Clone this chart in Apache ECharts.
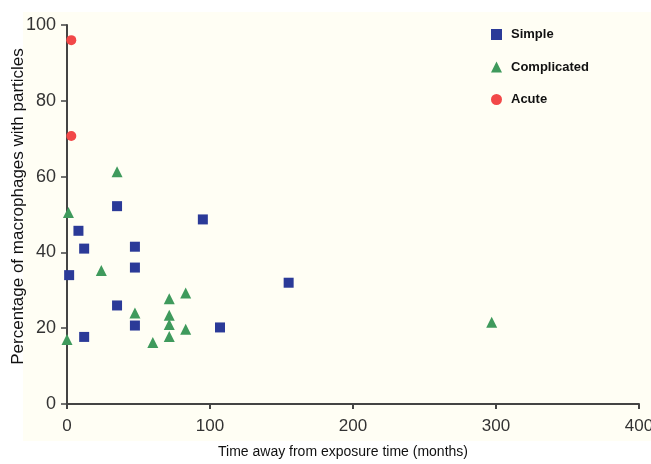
<!DOCTYPE html>
<html>
<head>
<meta charset="utf-8">
<script src="https://cdn.jsdelivr.net/npm/echarts@6/dist/echarts.min.js"></script>
<style>html,body{margin:0;padding:0;background:#fff;}#c{width:651px;height:464px;}</style>
</head>
<body>
<div id="c"></div>
<script>
const xTicks = [0, 100, 200, 300, 400];
const yTicks = [0, 20, 40, 60, 80, 100];

const simpleX = [35, 95, 8, 12, 47.5, 47.5, 1.5, 155, 35, 47.5, 107, 12];
const simpleY = [52.2, 48.7, 45.7, 41, 41.5, 36, 34, 32, 26, 20.7, 20.2, 17.7];

const complicatedX = [35, 1, 24, 83, 71.5, 47.5, 71.5, 71.5, 83, 71.5, 60, 0, 297];
const complicatedY = [61.3, 50.5, 35.2, 29.3, 27.8, 24, 23.4, 21, 19.7, 17.8, 16.2, 17, 21.6];

const acuteX = [3, 3];
const acuteY = [96, 70.7];

const seriesNames = ['Simple', 'Complicated', 'Acute'];

const zip = (xs, ys) => xs.map((x, i) => [x, ys[i]]);

const chart = echarts.init(document.getElementById('c'), null, {renderer: 'canvas'});
const font = 'Liberation Sans, Arial, sans-serif';
chart.setOption({
  animation: false,
  backgroundColor: '#ffffff',
  graphic: [{
    type: 'rect', z: -10, silent: true,
    shape: {x: 23, y: 12, width: 628, height: 429},
    style: {fill: '#fffef4'}
  }],
  grid: {left: 67, right: 12, top: 25, bottom: 60, containLabel: false, outerBoundsMode: 'none'},
  legend: {
    orient: 'vertical', left: 486, top: 23, itemGap: 19.5,
    itemWidth: 11, itemHeight: 11,
    data: seriesNames,
    textStyle: {fontFamily: font, fontWeight: 'bold', fontSize: 13, color: '#111', padding: [0, 0, 0, 4]}
  },
  xAxis: {
    type: 'value', min: xTicks[0], max: xTicks[xTicks.length - 1], interval: 100,
    name: 'Time away from exposure time (months)', nameLocation: 'middle', nameGap: 41,
    nameMoveOverlap: false,
    nameTextStyle: {fontFamily: font, fontSize: 14, color: '#111', padding: [0, 20, 0, 0]},
    axisLine: {show: true, lineStyle: {color: '#444', width: 2}},
    axisTick: {show: true, inside: false, length: 5, lineStyle: {color: '#444', width: 2}},
    axisLabel: {fontFamily: font, fontSize: 17, color: '#333', margin: 14},
    splitLine: {show: false}
  },
  yAxis: {
    type: 'value', min: yTicks[0], max: yTicks[yTicks.length - 1], interval: 20,
    name: 'Percentage of macrophages with particles', nameLocation: 'middle', nameGap: 40,
    nameMoveOverlap: false,
    nameTextStyle: {fontFamily: font, fontSize: 17, color: '#111', padding: [0, 0, 0, 16]},
    axisLine: {show: true, lineStyle: {color: '#444', width: 2}},
    axisTick: {show: true, inside: false, length: 6, lineStyle: {color: '#444', width: 1.5}},
    axisLabel: {fontFamily: font, fontSize: 18, color: '#333', margin: 11},
    splitLine: {show: false}
  },
  series: [
    {name: seriesNames[0], type: 'scatter', symbol: 'rect', symbolSize: 10,
     itemStyle: {color: '#2b3a98', opacity: 1}, data: zip(simpleX, simpleY)},
    {name: seriesNames[1], type: 'scatter', symbol: 'triangle', symbolSize: 11,
     itemStyle: {color: '#3f9a5c', opacity: 1}, data: zip(complicatedX, complicatedY)},
    {name: seriesNames[2], type: 'scatter', symbol: 'circle', symbolSize: 10,
     itemStyle: {color: '#f24848', opacity: 1}, data: zip(acuteX, acuteY)}
  ]
});
</script>
</body>
</html>
